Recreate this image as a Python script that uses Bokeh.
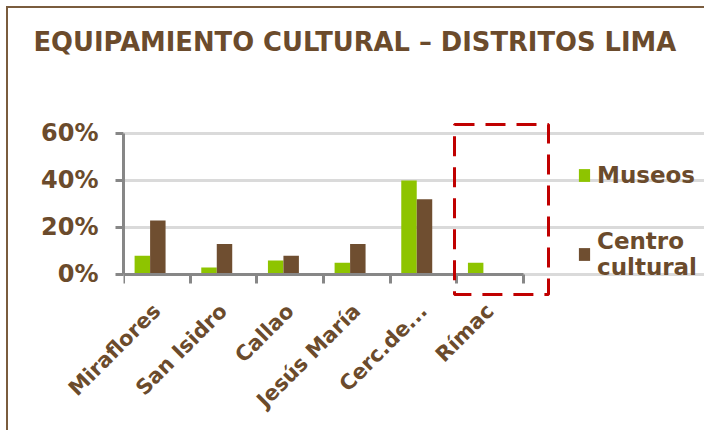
from bokeh.plotting import figure
from bokeh.models import (Range1d, LinearAxis, FixedTicker, NumeralTickFormatter, Legend, LegendItem,
                          BoxAnnotation, Title, ColumnDataSource)
from bokeh.embed import file_html
from bokeh.resources import INLINE
import math

# ---- data ----
categories = ["Miraflores", "San Isidro", "Callao", "Jesús María", "Cerc.de...", "Rímac"]
museos = [0.08, 0.03, 0.06, 0.05, 0.40, 0.05]
centro_cultural = [0.23, 0.13, 0.08, 0.13, 0.32, 0.0]
y_ticks = [0, 0.2, 0.4, 0.6]
title_text = "EQUIPAMIENTO CULTURAL – DISTRITOS LIMA"
legend_labels = ["Museos", "Centro\ncultural"]

GREEN = "#8EC400"
BROWN = "#6F4E30"
TEXT = "#6B4B2C"
AXIS = "#878787"
GRID = "#DADADA"
RED = "#C00000"
FONT = "DejaVu Sans"

n = len(categories)
centers = [i + 0.5 for i in range(n)]
boundaries = list(range(n + 1))

p = figure(x_range=Range1d(0, 8.715), y_range=Range1d(-0.0979, 0.6553), title=None,
           width=704, height=430, output_backend="svg", toolbar_location=None,
           min_border_left=123, min_border_right=0, min_border_top=120, min_border_bottom=133,
           x_axis_location=None, y_axis_location=None)
p.outline_line_color = None
p.background_fill_color = "white"
p.border_fill_color = None
p.styles = {"box-shadow": "inset 6px 6px 0 0 #FFFFFF, inset 8px 8px 0 0 #7A5C3E"}

source = ColumnDataSource(dict(
    x_m=[c - 0.2175 for c in centers],
    x_c=[c + 0.015 for c in centers],
    museos=museos, centro=centro_cultural))

r1 = p.vbar(x="x_m", top="museos", width=0.232, source=source, fill_color=GREEN, line_color=None)
r2 = p.vbar(x="x_c", top="centro", width=0.232, source=source, fill_color=BROWN, line_color=None)

# y axis
yax = LinearAxis(ticker=FixedTicker(ticks=y_ticks), formatter=NumeralTickFormatter(format="0%"),
                 bounds=(0, 0.6))
yax.axis_line_color = AXIS
yax.axis_line_width = 3
yax.major_tick_line_color = AXIS
yax.major_tick_line_width = 3
yax.major_tick_out = 8
yax.major_tick_in = 0
yax.minor_tick_line_color = None
yax.major_label_text_font = FONT
yax.major_label_text_font_style = "bold"
yax.major_label_text_font_size = "24px"
yax.major_label_text_color = TEXT
yax.major_label_standoff = 17
p.add_layout(yax, "left")

p.ygrid.ticker = FixedTicker(ticks=y_ticks)
p.ygrid.grid_line_color = GRID
p.ygrid.grid_line_width = 3
p.ygrid.bounds = (0, n)
p.xgrid.grid_line_color = None

# x axis line at y=0 with tick marks at category boundaries
xline = LinearAxis(ticker=FixedTicker(ticks=boundaries), fixed_location=0, bounds=(0, n),
                   major_label_overrides={b: "" for b in boundaries})
xline.axis_line_color = AXIS
xline.axis_line_width = 3
xline.major_tick_line_color = AXIS
xline.major_tick_line_width = 3
xline.major_tick_out = 9
xline.major_tick_in = 0
xline.minor_tick_line_color = None
xline.major_label_text_font_size = "0px"
xline.major_label_standoff = 0
p.add_layout(xline, "below")

# category labels at category centres
xcat = LinearAxis(ticker=FixedTicker(ticks=centers),
                  major_label_overrides={c: name for c, name in zip(centers, categories)})
xcat.axis_line_color = None
xcat.major_tick_line_color = None
xcat.major_tick_out = 0
xcat.major_tick_in = 0
xcat.minor_tick_line_color = None
xcat.major_label_orientation = math.pi / 4
xcat.major_label_text_font = FONT
xcat.major_label_text_font_style = "bold"
xcat.major_label_text_font_size = "21px"
xcat.major_label_text_color = TEXT
xcat.major_label_standoff = 10
p.add_layout(xcat, "below")

# title (a thin spacer keeps it near the top of the chart)
spacer = Title(text=" ", text_font_size="2px", standoff=60)
p.add_layout(spacer, "above")
main_title = Title(text=title_text, align="left", offset=-90, standoff=0,
                   text_font=FONT, text_font_style="bold", text_font_size="25.8px",
                   text_color=TEXT)
p.add_layout(main_title, "above")

# highlight box around Rímac
box = BoxAnnotation(left=4.965, right=6.375, bottom=-0.085, top=0.638,
                    fill_alpha=0, line_color=RED, line_alpha=1, line_width=3, line_dash="20 11")
p.add_layout(box)

# legend
legend = Legend(items=[LegendItem(label=legend_labels[0], renderers=[r1]),
                       LegendItem(label=legend_labels[1], renderers=[r2])],
                location=(454, 17))
legend.border_line_color = None
legend.background_fill_alpha = 0
legend.padding = 0
legend.margin = 0
legend.glyph_width = 14
legend.glyph_height = 16
legend.label_standoff = 6
legend.spacing = 40
legend.label_text_font = FONT
legend.label_text_font_style = "bold"
legend.label_text_font_size = "23px"
legend.label_text_color = TEXT
p.add_layout(legend)

open("out.html", "w").write(file_html(p, INLINE))
